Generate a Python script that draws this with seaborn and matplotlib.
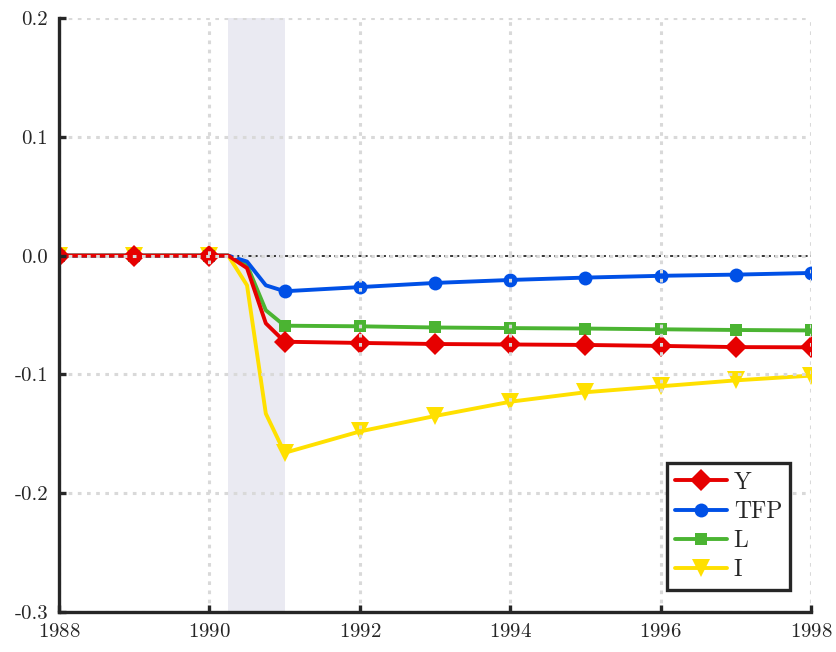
import numpy as np
import pandas as pd
import matplotlib
matplotlib.use("Agg")
import matplotlib.pyplot as plt
import seaborn as sns

# 时间轴：整数年 + 1990年的季度点
years = [1988, 1989, 1990, 1990.25, 1990.5, 1990.75, 1991,
         1992, 1993, 1994, 1995, 1996, 1997, 1998]

y_vals = [0, 0, 0, 0, -0.0105, -0.057, -0.0725,
          -0.0735, -0.0744, -0.0748, -0.0752, -0.076, -0.077, -0.0772]
tfp_vals = [0, 0, 0, 0, -0.005, -0.025, -0.030,
            -0.0265, -0.023, -0.0205, -0.0185, -0.017, -0.016, -0.0146]
l_vals = [0, 0, 0, 0, -0.008, -0.046, -0.059,
          -0.0595, -0.0605, -0.061, -0.0614, -0.062, -0.0626, -0.063]
i_vals = [0, 0, 0, 0, -0.025, -0.133, -0.166,
          -0.148, -0.135, -0.123, -0.115, -0.110, -0.105, -0.101]

series_names = ['Y', 'TFP', 'L', 'I']
series_vals = [y_vals, tfp_vals, l_vals, i_vals]

shade_start, shade_end = 1990.25, 1991
x_ticks = [1988, 1990, 1992, 1994, 1996, 1998]
y_ticks = [-0.3, -0.2, -0.1, 0.0, 0.1, 0.2]

df = pd.DataFrame({
    'year': np.tile(years, len(series_names)),
    'value': np.concatenate(series_vals),
    'var': np.repeat(series_names, len(years)),
})

sns.set_style("ticks")
plt.rcParams['font.family'] = ['cmr10', 'DejaVu Serif']
plt.rcParams['axes.unicode_minus'] = False
plt.rcParams['axes.formatter.use_mathtext'] = True
plt.rcParams['mathtext.fontset'] = 'cm'

colors = {'Y': '#E60000', 'TFP': '#0050E6', 'L': '#4BB432', 'I': '#FFE000'}
markers = {'Y': 'D', 'TFP': 'o', 'L': 's', 'I': 'v'}
msizes = {'Y': 11.5, 'TFP': 10, 'L': 8, 'I': 13}

# 只在整数年上画标记
mark_idx = [i for i, x in enumerate(years) if float(x).is_integer()]

fig = plt.figure(figsize=(8.37, 6.52), dpi=100)
ax = fig.add_axes([0.0705, 0.0613, 0.8985, 0.9111])

ax.axvspan(shade_start, shade_end, color='#EAEAF2', zorder=0.5, lw=0)
ax.axhline(0, color='black', lw=1.1, ls=(0, (2, 2)), zorder=1.5)

# 倒序画，让 Y 在最上层
for name in series_names[::-1]:
    sns.lineplot(data=df[df['var'] == name], x='year', y='value', ax=ax,
                 color=colors[name], marker=markers[name], markersize=msizes[name],
                 markeredgewidth=0, markevery=mark_idx, lw=2.8, label=name)

ax.set_xlim(1988, 1998)
ax.set_ylim(-0.3, 0.2)
ax.set_xticks(x_ticks)
ax.set_yticks(y_ticks)
ax.set_yticklabels([f'{v:.1f}' for v in y_ticks])
ax.set_xlabel('')
ax.set_ylabel('')

ax.set_axisbelow(False)
ax.grid(True, color='#D9D9D9', ls=(0, (1.2, 1.8)), lw=2.2)

sns.despine(ax=ax)
for s in ['left', 'bottom']:
    ax.spines[s].set_linewidth(2.4)
    ax.spines[s].set_color('#262626')
    ax.spines[s].set_zorder(4)
ax.tick_params(direction='in', length=5, width=2.4, color='#262626',
               labelsize=15, pad=8)

handles, labels = ax.get_legend_handles_labels()
order = [labels.index(n) for n in series_names]
leg = ax.legend([handles[i] for i in order], series_names,
                loc='lower right', fontsize=17, frameon=True, fancybox=False,
                handlelength=2.2, handletextpad=0.3, borderpad=0.35,
                labelspacing=0.3, borderaxespad=0.3,
                bbox_to_anchor=(0.982, 0.026))
leg.get_frame().set_edgecolor('#262626')
leg.get_frame().set_linewidth(2.4)
leg.get_frame().set_alpha(1)
leg.set_zorder(5)

fig.savefig('out.png', dpi=100)
